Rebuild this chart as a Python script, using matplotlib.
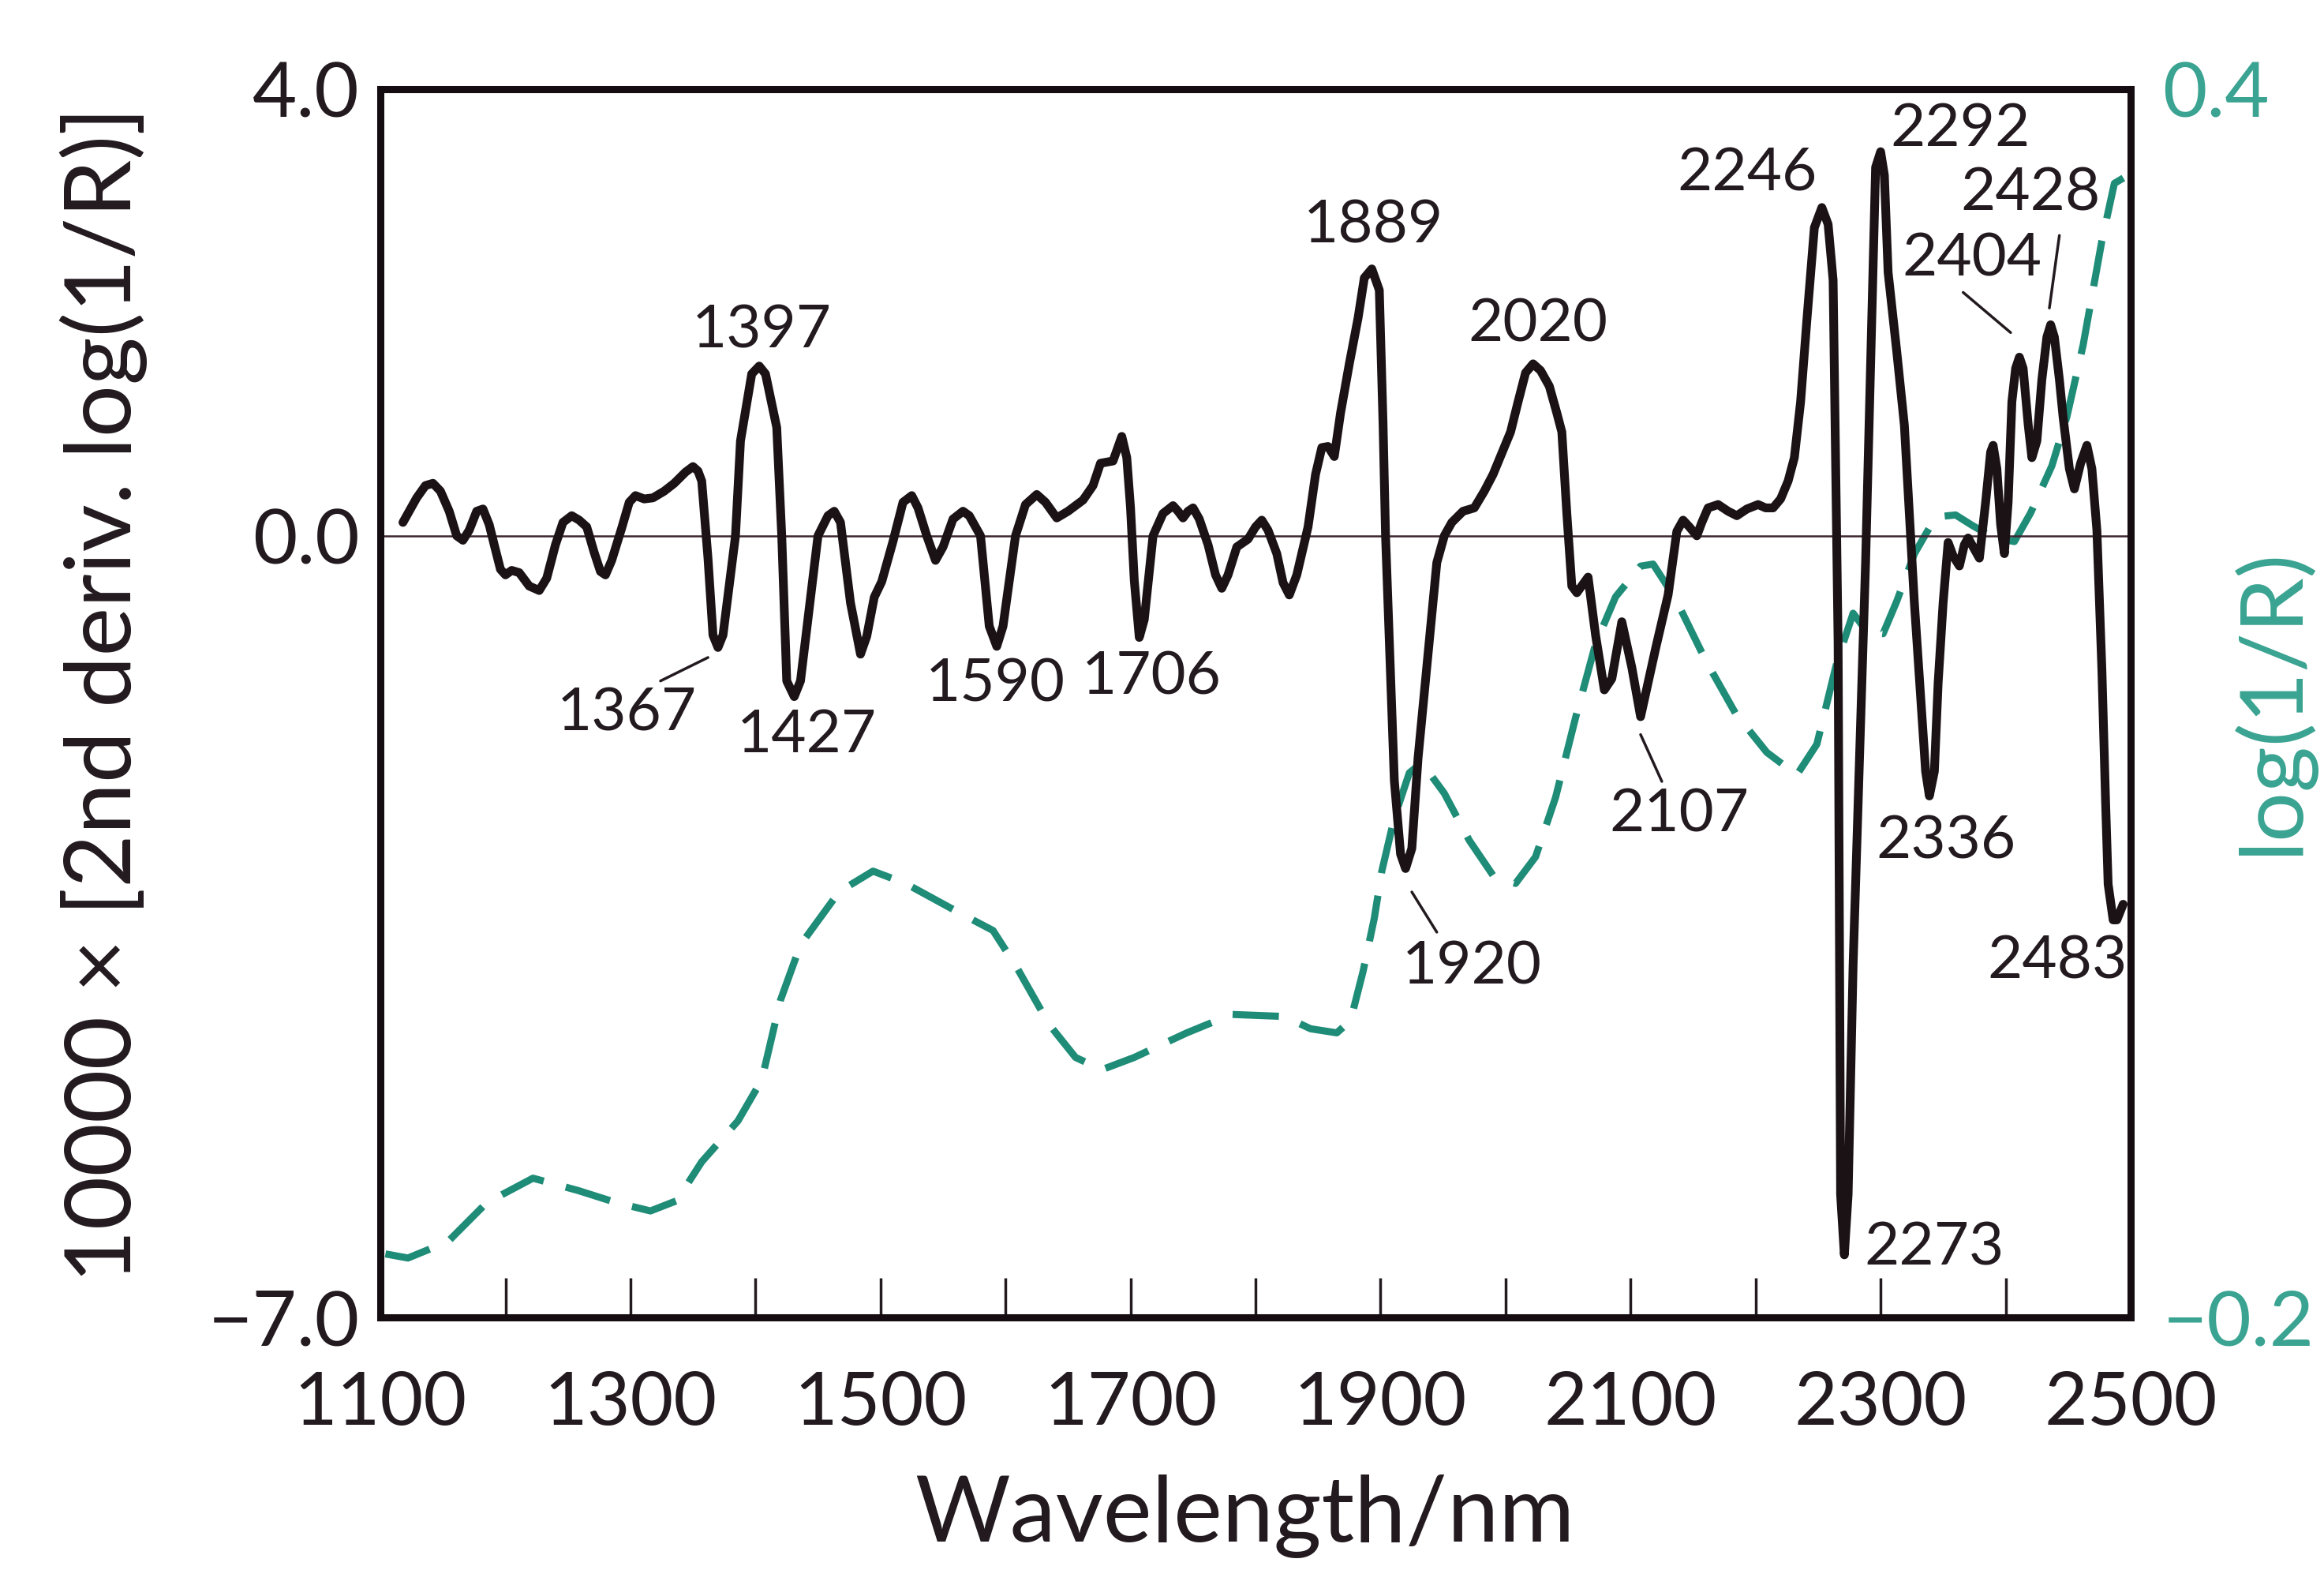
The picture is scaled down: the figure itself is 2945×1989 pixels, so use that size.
import matplotlib
matplotlib.use('Agg')
import matplotlib.pyplot as plt
import numpy as np

plt.rcParams['font.family'] = ['Lato', 'DejaVu Sans']

# 2nd derivative spectrum, 10000 x d2 log(1/R)
wavelength = [1118, 1129, 1136, 1142, 1148, 1155, 1161, 1166, 1171, 1177,
              1182, 1187, 1191, 1196, 1200, 1205, 1211, 1219, 1227, 1233,
              1240, 1246, 1253, 1259, 1265, 1271, 1276, 1280, 1285, 1293,
              1299, 1304, 1311, 1318, 1327, 1335, 1344, 1350, 1354, 1357,
              1362, 1366, 1370, 1374, 1384, 1388, 1397, 1403, 1408, 1417,
              1421, 1425, 1431, 1436, 1450, 1458, 1463, 1468, 1476, 1484,
              1489, 1495, 1501, 1510, 1518, 1525, 1530, 1537, 1544, 1550,
              1558, 1566, 1571, 1576, 1580, 1587, 1593, 1598, 1608, 1616,
              1625, 1632, 1641, 1650, 1662, 1670, 1676, 1686, 1693, 1697,
              1700, 1703, 1707, 1711, 1718, 1726, 1734, 1738, 1742, 1746,
              1750, 1755, 1762, 1768, 1773, 1778, 1785, 1794, 1800, 1805,
              1810, 1817, 1822, 1827, 1833, 1842, 1848, 1853, 1858, 1863,
              1868, 1875, 1882, 1887, 1893, 1899, 1902, 1904, 1911, 1916,
              1920, 1925, 1930, 1945, 1951, 1957, 1966, 1975, 1983, 1990,
              2004, 2010, 2016, 2022, 2028, 2035, 2041, 2045, 2049, 2053,
              2057, 2066, 2072, 2079, 2085, 2093, 2101, 2108, 2120, 2130,
              2137, 2142, 2147, 2153, 2157, 2162, 2170, 2178, 2185, 2193,
              2202, 2208, 2214, 2220, 2226, 2231, 2236, 2241, 2247, 2253,
              2258, 2262, 2266, 2268, 2271, 2274, 2278, 2288, 2296, 2300,
              2303, 2306, 2313, 2319, 2327, 2336, 2339, 2343, 2346, 2350,
              2354, 2358, 2363, 2367, 2370, 2375, 2379, 2384, 2388, 2390,
              2393, 2396, 2399, 2402, 2405, 2408, 2411, 2414, 2418, 2421,
              2425, 2429, 2433, 2436, 2439, 2443, 2446, 2451, 2455, 2460,
              2465, 2469, 2473, 2477, 2480, 2482, 2486, 2489, 2494]
second_deriv = [0.12, 0.34, 0.45, 0.47, 0.40, 0.22, 0.00, -0.04, 0.05, 0.22,
                0.24, 0.10, -0.08, -0.30, -0.35, -0.31, -0.33, -0.45, -0.49, -0.38,
                -0.08, 0.12, 0.18, 0.14, 0.08, -0.15, -0.32, -0.35, -0.22, 0.07,
                0.30, 0.36, 0.33, 0.34, 0.40, 0.47, 0.57, 0.62, 0.58, 0.49,
                -0.20, -0.89, -1.00, -0.89, 0.00, 0.85, 1.45, 1.52, 1.45, 0.97,
                0.00, -1.30, -1.44, -1.30, 0.00, 0.18, 0.22, 0.12, -0.60, -1.06,
                -0.90, -0.55, -0.41, -0.05, 0.30, 0.36, 0.25, 0.00, -0.22, -0.10,
                0.15, 0.22, 0.18, 0.08, 0.00, -0.81, -0.99, -0.81, 0.00, 0.28,
                0.37, 0.30, 0.16, 0.22, 0.32, 0.45, 0.65, 0.67, 0.89, 0.70,
                0.25, -0.40, -0.91, -0.75, 0.00, 0.20, 0.27, 0.22, 0.16, 0.22,
                0.25, 0.15, -0.08, -0.35, -0.47, -0.35, -0.10, -0.03, 0.08, 0.14,
                0.05, -0.16, -0.42, -0.53, -0.35, 0.08, 0.55, 0.79, 0.80, 0.71,
                1.10, 1.54, 1.95, 2.31, 2.39, 2.20, 1.00, 0.00, -2.19, -2.85,
                -2.98, -2.80, -1.99, -0.24, 0.00, 0.12, 0.22, 0.25, 0.40, 0.55,
                0.93, 1.20, 1.46, 1.54, 1.48, 1.34, 1.10, 0.93, 0.20, -0.45,
                -0.51, -0.37, -0.89, -1.38, -1.28, -0.77, -1.18, -1.62, -1.01, -0.53,
                0.04, 0.14, 0.08, 0.00, 0.12, 0.25, 0.28, 0.22, 0.18, 0.24,
                0.28, 0.25, 0.25, 0.33, 0.49, 0.70, 1.20, 1.93, 2.76, 2.94,
                2.79, 2.29, -0.96, -5.90, -6.44, -5.90, -3.84, -0.23, 3.30, 3.44,
                3.23, 2.36, 1.64, 0.99, -0.60, -2.11, -2.33, -2.11, -1.32, -0.60,
                -0.06, -0.18, -0.27, -0.08, -0.02, -0.12, -0.20, 0.30, 0.75, 0.81,
                0.60, 0.10, -0.16, 0.30, 1.20, 1.50, 1.60, 1.50, 1.00, 0.70,
                0.85, 1.40, 1.78, 1.89, 1.78, 1.40, 1.06, 0.60, 0.42, 0.65,
                0.81, 0.60, 0.05, -1.20, -2.40, -3.12, -3.44, -3.44, -3.30]

# log(1/R) spectrum (right axis)
abs_wavelength = [1104, 1122, 1154, 1185, 1222, 1258, 1289, 1316, 1337, 1357,
                  1386, 1405, 1420, 1436, 1467, 1494, 1520, 1562, 1590, 1609,
                  1635, 1656, 1677, 1703, 1745, 1781, 1823, 1844, 1865, 1876,
                  1886, 1895, 1901, 1911, 1923, 1933, 1951, 1971, 1991, 2008,
                  2024, 2040, 2056, 2072, 2088, 2108, 2118, 2136, 2160, 2184,
                  2209, 2233, 2249, 2265, 2278, 2289, 2302, 2313, 2327, 2344,
                  2360, 2373, 2390, 2407, 2420, 2437, 2449, 2462, 2477, 2487,
                  2498]
log_inv_r = [-0.169, -0.171, -0.163, -0.144, -0.132, -0.138, -0.144, -0.148, -0.143, -0.124,
             -0.104, -0.084, -0.045, -0.018, 0.008, 0.018, 0.012, -0.002, -0.011, -0.029,
             -0.057, -0.073, -0.079, -0.073, -0.061, -0.052, -0.053, -0.059, -0.061, -0.055,
             -0.031, -0.005, 0.018, 0.044, 0.066, 0.071, 0.056, 0.033, 0.015, 0.012,
             0.025, 0.054, 0.093, 0.129, 0.152, 0.167, 0.168, 0.151, 0.121, 0.095,
             0.076, 0.065, 0.080, 0.120, 0.144, 0.135, 0.134, 0.150, 0.173, 0.191,
             0.192, 0.187, 0.181, 0.179, 0.193, 0.216, 0.240, 0.275, 0.326, 0.354,
             0.358]

peak_labels = ['1367', '1397', '1427', '1590', '1706', '1889', '1920', '2020',
               '2107', '2246', '2273', '2292', '2336', '2404', '2428', '2483']

# where each band label sits (data coords) and optional leader line
label_xy = [(1297, -1.59), (1405, 1.84), (1441, -1.79), (1592, -1.33),
            (1717, -1.27), (1894, 2.78), (1973, -3.86), (2026, 1.89),
            (2139, -2.50), (2193, 3.24), (2343, -6.38), (2364, 3.64),
            (2352, -2.74), (2373, 2.48), (2420, 3.07), (2441, -3.81)]
leaders = {'1367': ((1324, -1.30), (1362, -1.09)),
           '1920': ((1925, -3.19), (1945, -3.55)),
           '2107': ((2108, -1.78), (2125, -2.20)),
           '2404': ((2366, 2.18), (2404, 1.82)),
           '2428': ((2443, 2.69), (2435, 2.04))}

ink = '#221a1f'
teal = '#1f8c78'
teal_text = '#3aa391'

fig = plt.figure(figsize=(29.45, 19.89), dpi=100)
ax = fig.add_axes([0.1637, 0.1609, 0.7531, 0.7823])
ax2 = ax.twinx()

ax2.plot(abs_wavelength, log_inv_r, color=teal, lw=6.5, dashes=(6.5, 3.2))
ax2.set_ylim(-0.2, 0.4)

ax.axhline(0, color='#3b2530', lw=1.8, zorder=1)
ax.plot(wavelength, second_deriv, color='#1b1216', lw=8,
        solid_joinstyle='round', solid_capstyle='round', zorder=3)
ax.set_zorder(ax2.get_zorder() + 1)
ax.patch.set_visible(False)

ax.set_xlim(1100, 2500)
ax.set_ylim(-7, 4)

xt = np.arange(1100, 2501, 100)
ax.set_xticks(xt, [str(v) if (v - 1100) % 200 == 0 else '' for v in xt])
ax.tick_params(axis='x', direction='in', length=36, width=2.5, pad=49,
               labelsize=68, colors=ink)
ax.set_yticks([4, 0, -7], ['4.0', '0.0', '\u22127.0'])
ax.tick_params(axis='y', length=0, pad=19, labelsize=70, labelcolor=ink)

ax2.set_yticks([0.4, -0.2], ['0.4', '\u22120.2'])
ax2.tick_params(axis='y', length=0, pad=29, labelsize=70, labelcolor=teal_text)

for s in ax.spines.values():
    s.set_linewidth(6.5)
    s.set_color('#140c10')
for s in ax2.spines.values():
    s.set_visible(False)

for name, (tx, ty) in zip(peak_labels, label_xy):
    ax.text(tx, ty, name, ha='center', va='center', fontsize=55, color=ink)
    if name in leaders:
        p0, p1 = leaders[name]
        ax.annotate('', xy=p1, xytext=p0,
                    arrowprops=dict(arrowstyle='-', lw=2.5, color=ink,
                                    shrinkA=0, shrinkB=0))

fig.text(0.0445, 0.5576, '10000 \u00d7 [2nd deriv. log(1/R)]', rotation=90,
         ha='center', va='center', fontsize=84, color=ink)
fig.text(0.5355, 0.034, 'Wavelength/nm', ha='center', va='center',
         fontsize=84, color=ink)
fig.text(0.9772, 0.5535, 'log(1/R)', rotation=90, ha='center', va='center',
         fontsize=80, color=teal_text)

fig.savefig('out.png', dpi=100)
